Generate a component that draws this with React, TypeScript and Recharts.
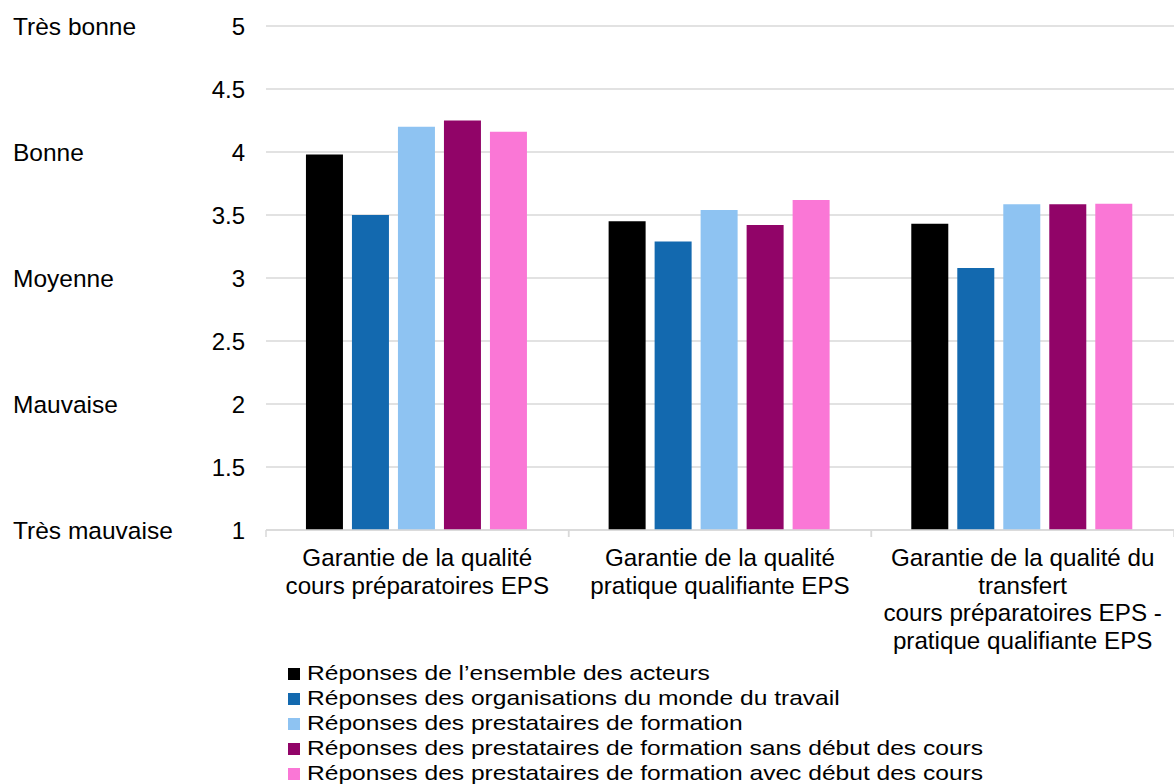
import React from "react";
import { BarChart, Bar, XAxis, YAxis, CartesianGrid, Legend } from "recharts";

const categories = [
  "Garantie de la qualité\ncours préparatoires EPS",
  "Garantie de la qualité\npratique qualifiante EPS",
  "Garantie de la qualité du\ntransfert\ncours préparatoires EPS -\npratique qualifiante EPS",
];
const ensembleActeurs = [3.98, 3.45, 3.43];
const mondeTravail = [3.5, 3.29, 3.08];
const prestataires = [4.2, 3.54, 3.585];
const sansDebut = [4.25, 3.42, 3.585];
const avecDebut = [4.16, 3.62, 3.59];

const seriesNames = [
  "Réponses de l’ensemble des acteurs",
  "Réponses des organisations du monde du travail",
  "Réponses des prestataires de formation",
  "Réponses des prestataires de formation sans début des cours",
  "Réponses des prestataires de formation avec début des cours",
];
const seriesColors = ["#000000", "#1369AF", "#8EC3F2", "#910468", "#FA77D6"];
const seriesValues = [ensembleActeurs, mondeTravail, prestataires, sansDebut, avecDebut];
const seriesKeys = ["s0", "s1", "s2", "s3", "s4"];

const yTicks = [1, 1.5, 2, 2.5, 3, 3.5, 4, 4.5, 5];
const qualityLabels: Record<number, string> = {
  5: "Très bonne",
  4: "Bonne",
  3: "Moyenne",
  2: "Mauvaise",
  1: "Très mauvaise",
};

const data = categories.map((c, i) => {
  const row: Record<string, any> = { category: c };
  seriesKeys.forEach((k, j) => {
    row[k] = seriesValues[j][i];
  });
  return row;
});

const W = 1174;
const H = 784;
const PLOT_LEFT = 266;
const BAND = (W - PLOT_LEFT) / categories.length;
const FONT = "'Liberation Sans', Arial, sans-serif";

const YTick = (props: any) => {
  const { x, y, payload } = props;
  const v = payload.value;
  const word = qualityLabels[v];
  return (
    <g>
      <text x={x - 21} y={y} dy="0.36em" textAnchor="end" fontSize={24} fill="#000" fontFamily={FONT}>
        {String(v)}
      </text>
      {word ? (
        <text x={x - 253} y={y} dy="0.36em" textAnchor="start" fontSize={24.5} fill="#000" fontFamily={FONT}>
          {word}
        </text>
      ) : null}
    </g>
  );
};

const XTick = (props: any) => {
  const { x, y, payload } = props;
  const lines = String(payload.value).split("\n");
  return (
    <g>
      <line x1={x - BAND / 2} x2={x - BAND / 2} y1={y} y2={y + 7} stroke="#d9d9d9" strokeWidth={1.5} />
      <line x1={x + BAND / 2} x2={x + BAND / 2} y1={y} y2={y + 7} stroke="#d9d9d9" strokeWidth={1.5} />
      {lines.map((l, i) => (
        <text key={i} x={x} y={y + 36 + i * 27.5} textAnchor="middle" fontSize={24.2} fill="#000" fontFamily={FONT}>
          {l}
        </text>
      ))}
    </g>
  );
};

const LegendContent = () => (
  <div style={{ fontFamily: FONT, fontSize: 21, color: "#000" }}>
    {seriesNames.map((n, i) => (
      <div key={i} style={{ height: 25, lineHeight: "25px", display: "flex", alignItems: "center", whiteSpace: "nowrap" }}>
        <span
          style={{
            display: "inline-block",
            width: 12,
            height: 12,
            background: seriesColors[i],
            marginRight: 7,
            marginTop: 3,
            flex: "none",
          }}
        />
        <span style={{ display: "inline-block", transform: "scaleX(1.17)", transformOrigin: "left center" }}>{n}</span>
      </div>
    ))}
  </div>
);

export default function App() {
  return (
    <div style={{ position: "absolute", left: 0, top: 0, width: W, height: H, background: "#fff" }}>
      <BarChart
        width={W}
        height={H}
        data={data}
        margin={{ top: 26, right: 0, bottom: 0, left: 0 }}
        barCategoryGap="13.2%"
        barGap={9}
      >
        <CartesianGrid horizontal vertical={false} stroke="#d9d9d9" strokeWidth={1.5} />
        <XAxis
          dataKey="category"
          height={254}
          axisLine={{ stroke: "#d9d9d9", strokeWidth: 1.5 }}
          tickLine={false}
          tickSize={0}
          tickMargin={0}
          tick={<XTick />}
          interval={0}
        />
        <YAxis
          width={PLOT_LEFT}
          domain={[1, 5]}
          ticks={yTicks}
          axisLine={false}
          tickLine={false}
          tickSize={0}
          tickMargin={0}
          tick={<YTick />}
          interval={0}
        />
        <Legend
          layout="vertical"
          align="center"
          verticalAlign="middle"
          content={<LegendContent />}
          wrapperStyle={{ left: 288, top: 660, width: 800, height: 125 }}
        />
        {seriesKeys.map((k, i) => (
          <Bar key={k} dataKey={k} name={seriesNames[i]} fill={seriesColors[i]} isAnimationActive={false} />
        ))}
      </BarChart>
    </div>
  );
}
